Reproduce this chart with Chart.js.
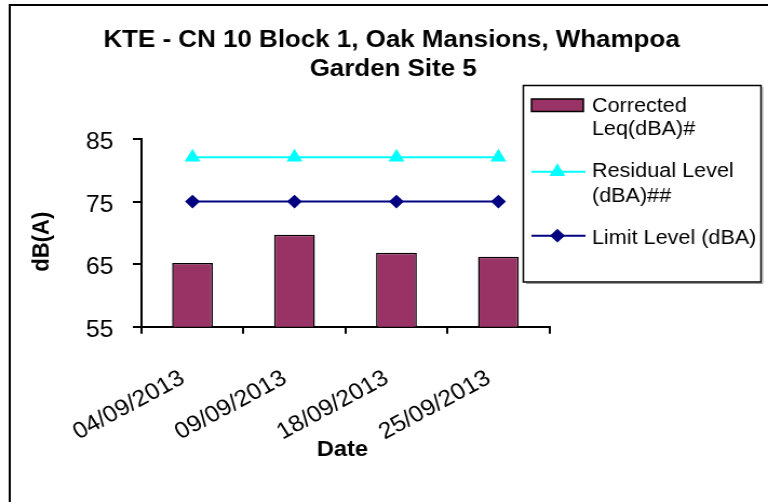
<!DOCTYPE html>
<html>
<head>
<meta charset="utf-8">
<script src="https://cdn.jsdelivr.net/npm/chart.js@4.4.0/dist/chart.umd.min.js"></script>
<style>
  html, body { margin: 0; padding: 0; background: #ffffff; overflow: hidden; }
  #wrap { width: 711px; height: 502px; transform: scaleX(1.0802); transform-origin: 0 0; }
  canvas { display: block; }
</style>
</head>
<body>
<div id="wrap"><canvas id="c" width="711" height="502"></canvas></div>
<script>
// ---- data ----
const categories = ['04/09/2013', '09/09/2013', '18/09/2013', '25/09/2013'];
const correctedLeq = [65.2, 69.7, 66.8, 66.2];
const residualLevel = [82.1, 82.1, 82.1, 82.1];
const limitLevel = [75, 75, 75, 75];
const yTickValues = [55, 65, 75, 85];
const seriesNames = ['Corrected Leq(dBA)#', 'Residual Level (dBA)##', 'Limit Level (dBA)'];
const legendLines = [['Corrected', 'Leq(dBA)#'], ['Residual Level', '(dBA)##'], ['Limit Level (dBA)']];
const titleLines = ['KTE - CN 10 Block 1, Oak Mansions, Whampoa', 'Garden Site 5'];
const xTitle = 'Date';
const yTitle = 'dB(A)';

const FONT = "'Liberation Sans', Arial, Helvetica, sans-serif";
Chart.defaults.font.family = FONT;
Chart.defaults.color = '#000000';

const decor = {
  id: 'decor',
  afterDraw(chart) {
    const ctx = chart.ctx;
    ctx.save();
    // outer frame (top & left visible)
    ctx.strokeStyle = '#000000';
    ctx.lineWidth = 2;
    ctx.strokeRect(9, 5, 900, 700);

    // title
    ctx.fillStyle = '#000000';
    ctx.font = 'bold 24px ' + FONT;
    ctx.textAlign = 'center';
    ctx.textBaseline = 'alphabetic';
    ctx.fillText(titleLines[0], 362.5, 47);
    ctx.fillText(titleLines[1], 364, 75.5);

    // axis titles
    ctx.font = 'bold 22px ' + FONT;
    ctx.fillText(xTitle, 317, 456);
    ctx.save();
    ctx.translate(39, 241.7);
    ctx.rotate(-Math.PI / 2);
    ctx.textBaseline = 'middle';
    ctx.fillText(yTitle, 0, 0);
    ctx.restore();

    // legend box
    ctx.lineWidth = 1.5;
    ctx.strokeStyle = '#000000';
    ctx.strokeRect(484.5, 85.5, 220, 196.5);
    ctx.strokeStyle = '#9a9a9a';
    ctx.lineWidth = 1;
    ctx.beginPath();
    ctx.moveTo(706, 87); ctx.lineTo(706, 283.5); ctx.lineTo(487, 283.5);
    ctx.stroke();

    const ds = chart.data.datasets;
    // bar swatch
    ctx.fillStyle = ds[0].backgroundColor;
    ctx.fillRect(492, 99, 48, 12.5);
    ctx.strokeStyle = '#000000';
    ctx.lineWidth = 1.5;
    ctx.strokeRect(492, 99, 48, 12.5);
    // line swatches
    const swatch = (d, y) => {
      ctx.strokeStyle = d.borderColor;
      ctx.lineWidth = 2;
      ctx.beginPath();
      ctx.moveTo(492, y); ctx.lineTo(542, y);
      ctx.stroke();
      ctx.fillStyle = d.pointBackgroundColor;
      ctx.strokeStyle = d.pointBorderColor;
      Chart.helpers.drawPoint(ctx, { pointStyle: d.pointStyle, radius: d.pointRadius, rotation: 0, borderWidth: 1 }, 516, y);
    };
    swatch(ds[1], 171.7);
    swatch(ds[2], 235.7);

    ctx.fillStyle = '#000000';
    ctx.font = '20px ' + FONT;
    ctx.textAlign = 'left';
    ctx.textBaseline = 'alphabetic';
    ctx.fillText(legendLines[0][0], 548, 112);
    ctx.fillText(legendLines[0][1], 548, 135);
    ctx.fillText(legendLines[1][0], 548, 177);
    ctx.fillText(legendLines[1][1], 548, 202);
    ctx.fillText(legendLines[2][0], 548, 243.5);
    ctx.restore();
  }
};

new Chart(document.getElementById('c'), {
  data: {
    labels: categories,
    datasets: [
      {
        type: 'bar',
        label: seriesNames[0],
        data: correctedLeq,
        backgroundColor: '#993366',
        borderColor: '#000000',
        borderWidth: 1.5,
        barPercentage: 0.4,
        categoryPercentage: 1.0,
        order: 2
      },
      {
        type: 'line',
        label: seriesNames[1],
        data: residualLevel,
        borderColor: '#00ffff',
        backgroundColor: '#00ffff',
        pointBackgroundColor: '#00ffff',
        pointBorderColor: '#00ffff',
        pointStyle: 'triangle',
        pointRadius: 6.5,
        borderWidth: 2,
        fill: false,
        order: 1
      },
      {
        type: 'line',
        label: seriesNames[2],
        data: limitLevel,
        borderColor: '#000080',
        backgroundColor: '#000080',
        pointBackgroundColor: '#000080',
        pointBorderColor: '#000080',
        pointStyle: 'rectRot',
        pointRadius: 5.5,
        borderWidth: 2,
        fill: false,
        order: 0
      }
    ]
  },
  options: {
    responsive: false,
    animation: false,
    devicePixelRatio: 1,
    layout: { padding: { top: 139, right: 202.4, left: 0, bottom: 0 } },
    plugins: {
      legend: { display: false },
      title: { display: false },
      tooltip: { enabled: false }
    },
    scales: {
      x: {
        type: 'category',
        offset: true,
        grid: { display: true, offset: true, drawOnChartArea: false, drawTicks: true, tickLength: 7, color: '#000000', lineWidth: 2 },
        border: { display: true, color: '#000000', width: 2 },
        ticks: { minRotation: 30, maxRotation: 30, autoSkip: false, padding: 31, labelOffset: -9, font: { size: 23 }, color: '#000000' },
        afterFit(s) { s.height = 502 - 326.7; }
      },
      y: {
        type: 'linear',
        min: yTickValues[0],
        max: yTickValues[yTickValues.length - 1],
        afterBuildTicks(s) { s.ticks = yTickValues.map(v => ({ value: v })); },
        grid: { display: true, drawOnChartArea: false, drawTicks: true, tickLength: 8, color: '#000000', lineWidth: 2 },
        border: { display: true, color: '#000000', width: 2 },
        ticks: { padding: 18, labelOffset: 4, font: { size: 23 }, color: '#000000' },
        afterFit(s) { s.width = 131; }
      }
    }
  },
  plugins: [decor]
});
</script>
</body>
</html>
